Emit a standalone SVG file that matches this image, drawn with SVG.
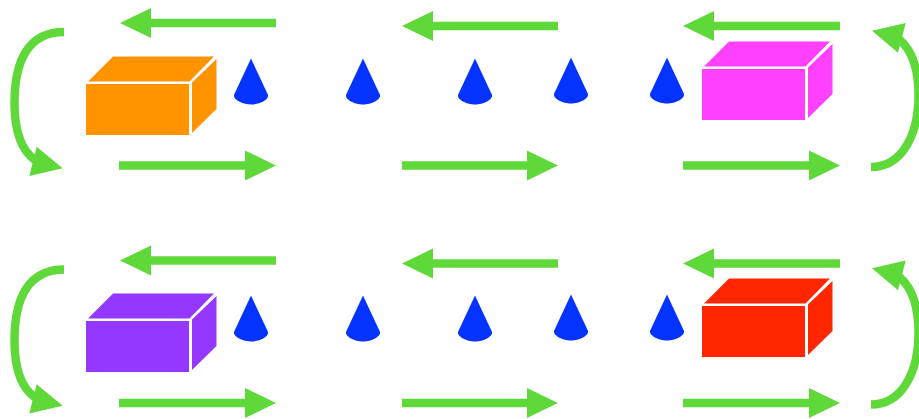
<svg xmlns="http://www.w3.org/2000/svg" width="919" height="419" viewBox="0 0 919 419">
<style>
.a{fill:none;stroke:#5fd939;stroke-width:8.400}
.h{fill:#5fd939}
.s{marker-end:url(#ah)}
.c{fill:#0433ff}
.o{fill:#ff9300}.m{fill:#ff40ff}.p{fill:#9437ff}.r{fill:#ff2600}
</style>
<defs>
<marker id="ah" markerUnits="userSpaceOnUse" markerWidth="32" markerHeight="32" refX="0" refY="15.500" orient="auto"><path class="h" d="M0,0.500L31,15.500L0,30.500Z"/></marker>
<g id="cone"><path d="M0,0L16.800,36C18.800,41 8,46 0,46C-8,46 -18.800,41 -16.800,36Z"/></g>
<g id="box"><rect x="0" y="0" width="103" height="51"/><path d="M2,-2.500L27,-27.500H128L103.500,-2.500Z"/><path d="M106,49L130.500,25V-25L106,-1.500Z"/></g>
<g id="curveL"><path class="a" d="M64,32C30,32 14.500,58 14.500,103C14.500,130 21,150 35,160"/><path class="h" d="M62.700,168.300L29.300,176L36.700,146.700Z"/></g>
<g id="curveR"><path class="a" d="M871,167C902,167 918.500,135 918.500,95C918.500,70 912,50 899,39"/><path class="h" d="M872,30.700L905.700,23L898,52.700Z"/></g>
</defs>
<g id="connectors">
<path class="a s" d="M276,23H151"/><path class="a s" d="M558,26H433"/><path class="a s" d="M840,26H714"/>
<path class="a s" d="M119,165.500H245"/><path class="a s" d="M402,165.500H527"/><path class="a s" d="M683,165.500H809"/>
<path class="a s" d="M276,260.500H151"/><path class="a s" d="M558,263.500H433"/><path class="a s" d="M840,263.500H714"/>
<path class="a s" d="M119,403H245"/><path class="a s" d="M402,403H527"/><path class="a s" d="M683,403H809"/>
<use href="#curveL"/><use href="#curveR"/>
<use href="#curveL" y="237.500"/><use href="#curveR" y="237.500"/>
</g>
<g id="box-orange"><use href="#box" class="o" x="86" y="84"/></g>
<g id="box-magenta"><use href="#box" class="m" x="702" y="69"/></g>
<g id="box-purple"><use href="#box" class="p" x="86" y="321"/></g>
<g id="box-red"><use href="#box" class="r" x="702" y="306"/></g>
<g id="cone-1"><use href="#cone" class="c" x="251" y="58.500"/></g>
<g id="cone-2"><use href="#cone" class="c" x="363" y="58.500"/></g>
<g id="cone-3"><use href="#cone" class="c" x="475" y="58.500"/></g>
<g id="cone-4"><use href="#cone" class="c" x="571" y="57.500"/></g>
<g id="cone-5"><use href="#cone" class="c" x="667" y="57.500"/></g>
<g id="cone-6"><use href="#cone" class="c" x="251" y="295.500"/></g>
<g id="cone-7"><use href="#cone" class="c" x="363" y="295.500"/></g>
<g id="cone-8"><use href="#cone" class="c" x="475" y="295.500"/></g>
<g id="cone-9"><use href="#cone" class="c" x="571" y="294.500"/></g>
<g id="cone-10"><use href="#cone" class="c" x="667" y="294.500"/></g>
</svg>
